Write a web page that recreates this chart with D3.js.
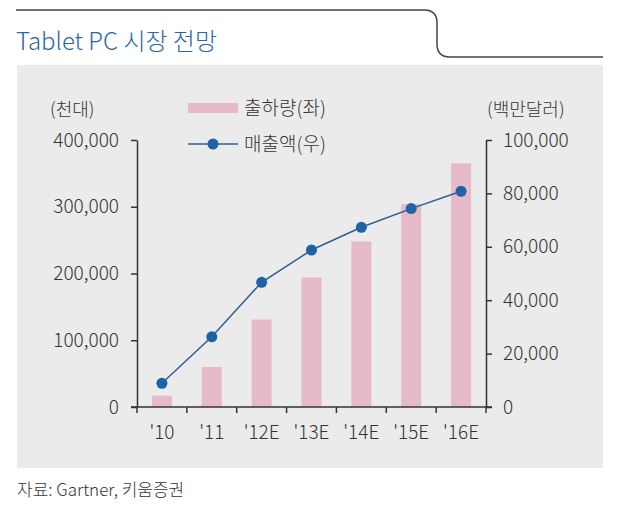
<!DOCTYPE html>
<html>
<head>
<meta charset="utf-8">
<script src="https://cdn.jsdelivr.net/npm/d3@7"></script>
<style>
  body { margin: 0; background: #fff; }
  text { font-family: "Noto Sans CJK KR", "Noto Sans", sans-serif; font-weight: 300; fill: #333; }
</style>
</head>
<body>
<div id="viz"></div>
<script>
// data
var years = ["'10", "'11", "'12E", "'13E", "'14E", "'15E", "'16E"];
var shipments = [17000, 60000, 131000, 194000, 248000, 304000, 365000]; // 천대, left
var revenue = [8900, 26300, 46700, 58800, 67300, 74300, 80800];        // 백만달러, right
var leftTicks = [0, 100000, 200000, 300000, 400000];
var rightTicks = [0, 20000, 40000, 60000, 80000, 100000];

var width = 620, height = 512;
var plot = { l: 137, r: 486, t: 140, b: 407 };

var svg = d3.select('#viz').append('svg')
  .attr('width', width)
  .attr('height', height);

// header line with the step
svg.append('path')
  .attr('d', 'M16,10 H424 Q437,10 437,23 V44 Q437,57 450,57 H603')
  .attr('fill', 'none')
  .attr('stroke', '#444')
  .attr('stroke-width', 1.5);

svg.append('text')
  .attr('x', 16).attr('y', 50)
  .style('font-size', '24px')
  .style('fill', '#2867a8')
  .text('Tablet PC 시장 전망');

// grey panel
svg.append('rect')
  .attr('x', 17).attr('y', 65)
  .attr('width', 586).attr('height', 403)
  .attr('fill', '#ebebeb');

var xTick = d3.scaleBand().domain(years).range([plot.l, plot.r]);
var yL = d3.scaleLinear().domain([0, 400000]).range([plot.b, plot.t]);
var yR = d3.scaleLinear().domain([0, 100000]).range([plot.b, plot.t]);
var cx = (d, i) => xTick(years[i]) + xTick.bandwidth() / 2;

// bars
svg.append('g').selectAll('rect')
  .data(shipments)
  .join('rect')
  .attr('x', (d, i) => cx(d, i) - 10)
  .attr('width', 20)
  .attr('y', d => yL(d))
  .attr('height', d => yL(0) - yL(d))
  .attr('fill', '#e6bac9');

// line
var line = d3.line()
  .x(cx)
  .y(d => yR(d));

svg.append('path')
  .datum(revenue)
  .attr('d', line)
  .attr('fill', 'none')
  .attr('stroke', '#2f5f92')
  .attr('stroke-width', 1.5);

svg.append('g').selectAll('circle')
  .data(revenue)
  .join('circle')
  .attr('cx', cx)
  .attr('cy', d => yR(d))
  .attr('r', 5.5)
  .attr('fill', '#1f62a8');

// axes
var fmt = d3.format(',');
var gL = svg.append('g')
  .attr('transform', `translate(${plot.l},0)`)
  .call(d3.axisLeft(yL).tickValues(leftTicks).tickFormat(fmt).tickSize(6).tickSizeOuter(0).tickPadding(12));
var gR = svg.append('g')
  .attr('transform', `translate(${plot.r},0)`)
  .call(d3.axisRight(yR).tickValues(rightTicks).tickFormat(fmt).tickSize(6).tickSizeOuter(0).tickPadding(11));

// x axis: ticks at category boundaries
var gX = svg.append('g')
  .attr('transform', `translate(0,${plot.b})`);
gX.append('line')
  .attr('x1', plot.l - 6).attr('x2', plot.r + 6)
  .attr('stroke', '#333').attr('stroke-width', 1.5);
gX.selectAll('.bt')
  .data(years.concat(['end']))
  .join('line')
  .attr('x1', (d, i) => plot.l + i * xTick.bandwidth())
  .attr('x2', (d, i) => plot.l + i * xTick.bandwidth())
  .attr('y1', 0).attr('y2', 6)
  .attr('stroke', '#333').attr('stroke-width', 1.5);
gX.selectAll('text')
  .data(years)
  .join('text')
  .attr('x', d => xTick(d) + xTick.bandwidth() / 2)
  .attr('y', 32)
  .attr('text-anchor', 'middle')
  .style('font-size', '19px')
  .text(d => d);

[gL, gR].forEach(g => {
  g.select('.domain').attr('stroke', '#333').attr('stroke-width', 1.5);
  g.selectAll('.tick line').attr('stroke', '#333').attr('stroke-width', 1.5);
  g.selectAll('.tick text').style('font-size', '19px').attr('fill', '#333');
});

// unit labels
svg.append('text').attr('x', 50).attr('y', 116).style('font-size', '18px').text('(천대)');
svg.append('text').attr('x', 487).attr('y', 116).style('font-size', '18px').text('(백만달러)');

// legend
var lg = svg.append('g');
lg.append('rect').attr('x', 188).attr('y', 103).attr('width', 50).attr('height', 10).attr('fill', '#e6bac9');
lg.append('text').attr('x', 244).attr('y', 115).style('font-size', '19px').text('출하량(좌)');
lg.append('line').attr('x1', 188).attr('x2', 238).attr('y1', 144).attr('y2', 144)
  .attr('stroke', '#2f5f92').attr('stroke-width', 1.5);
lg.append('circle').attr('cx', 213).attr('cy', 144).attr('r', 5.5).attr('fill', '#1f62a8');
lg.append('text').attr('x', 244).attr('y', 151).style('font-size', '19px').text('매출액(우)');

// source
svg.append('text').attr('x', 17).attr('y', 496).style('font-size', '17px').text('자료: Gartner, 키움증권');
</script>
</body>
</html>
